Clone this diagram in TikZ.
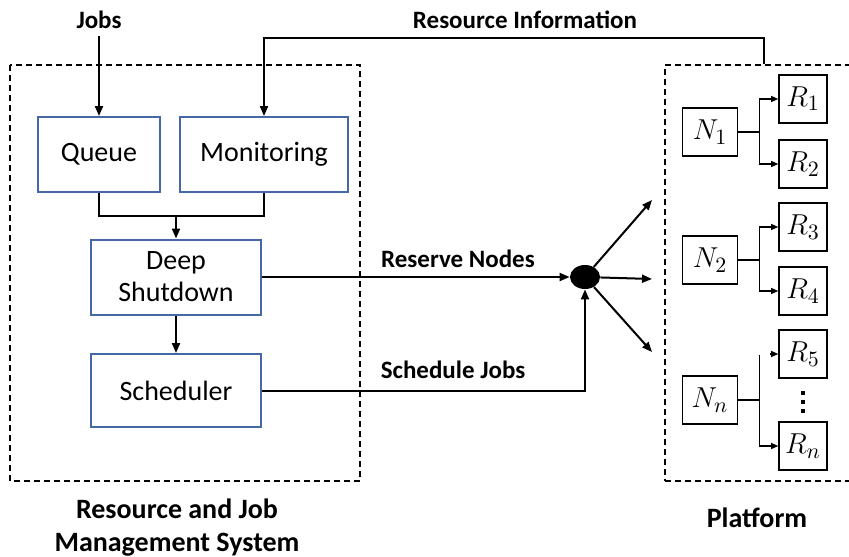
\documentclass[tikz,border=0pt]{standalone}
\usepackage{amsmath}
\usepackage{fontspec}
\setmainfont{Carlito}
\usetikzlibrary{arrows.meta, calc, shapes.geometric, positioning}

\definecolor{boxblue}{RGB}{70,104,166}

\tikzset{
  blockbox/.style={draw=boxblue, line width=1pt, align=center, inner sep=0pt, font=\fontsize{14}{16}\selectfont},
  resbox/.style={draw, line width=0.8pt, minimum width=24pt, minimum height=24pt, inner sep=0pt, font=\fontsize{15.5}{17}\selectfont},
  lbl/.style={font=\fontsize{12.5}{15}\selectfont\bfseries},
  arr/.style={-{Triangle[length=5pt,width=4pt]}, line width=1pt},
  sarr/.style={-{Triangle[length=3.5pt,width=3pt]}, line width=0.6pt}
}

\begin{document}
\begin{tikzpicture}[x=0.5pt, y=-0.5pt]
	% Frame
	\useasboundingbox (0,0) rectangle (849,556);
	\clip (0,0) rectangle (849,556);
	\fill[white] (0,0) rectangle (849,556);

	% Resource and job management system
	\draw[line width=1pt, dash pattern=on 3pt off 2pt] (10,65) rectangle (360,481);
	\node[blockbox, minimum width=61pt, minimum height=37.5pt] (queue) at (99,154.5) {Queue};
	\node[blockbox, minimum width=84pt, minimum height=37.5pt] (monitor) at (264,154.5) {Monitoring};
	\node[blockbox, minimum width=85pt, minimum height=37.5pt] (deep) at (176,277) {Deep\\Shutdown};
	\node[blockbox, minimum width=85pt, minimum height=36.5pt] (sched) at (176,390.5) {Scheduler};
	\coordinate (merge) at (176,216);

	% Platform
	\node[draw, line width=0.7pt, densely dashed, minimum width=102.5pt, minimum height=208pt, inner sep=0pt] (plat) at (767.5,273) {};
	\node[resbox, minimum width=27.5pt] (N1) at (710,132) {$N_1$};
	\node[resbox, minimum width=27.5pt] (N2) at (710,260) {$N_2$};
	\node[resbox, minimum width=27.5pt] (Nn) at (710,400) {$N_n$};
	\node[resbox] (R1) at (803,99) {$R_1$};
	\node[resbox] (R2) at (803,164) {$R_2$};
	\node[resbox] (R3) at (803,227) {$R_3$};
	\node[resbox] (R4) at (803,291) {$R_4$};
	\node[resbox] (R5) at (803,354) {$R_5$};
	\node[resbox] (Rn) at (803,446) {$R_n$};
	% vertical dots between R5 and Rn
	\foreach \dy in {-9,0,9}
		\fill (801,400+\dy) rectangle (805,404+\dy);

	% Labels
	\node[lbl] (jobs) at (99,20) {Jobs};
	\node[lbl] (resinfo) at (525,20) {Resource Information};
	\node[lbl] (reserve) at (458,259) {Reserve Nodes};
	\node[lbl] (schedjobs) at (453,370) {Schedule Jobs};
	\node[lbl, font=\fontsize{14}{16.5}\selectfont\bfseries, align=center] (rjms) at (177,528) {Resource and Job\\Management System};
	\node[lbl, font=\fontsize{14}{16}\selectfont\bfseries] (platlbl) at (757,518) {Platform};

	% Dispatch point
	\node[ellipse, fill=black, minimum width=15pt, minimum height=12pt, inner sep=0pt] (dot) at (585,277) {};
	\coordinate (outA) at (652,200);
	\coordinate (outB) at (652,279);
	\coordinate (outC) at (652,352);
	\coordinate (ritop) at (764,38);

	% Connectors
	\draw[arr] (jobs) -- (queue);
	\draw[arr] (plat.north -| ritop) -- (ritop) -| (monitor.north);
	\draw[line width=1pt] (queue.south) |- (merge) -| (monitor.south);
	\draw[arr] (merge) -- (deep.north);
	\draw[arr] (deep) -- (sched);
	\draw[arr] (deep.east) -- (dot.west);
	\draw[arr] (sched.east) -| (dot.south);
	\draw[arr] (dot) -- (outA);
	\draw[arr] (dot) -- (outB);
	\draw[arr] (dot) -- (outC);

	% Node branches
	\draw[line width=0.6pt] (N1.east) -- ++(21,0) coordinate (b1);
	\draw[sarr] (b1) |- (R1.west);
	\draw[sarr] (b1) |- (R2.west);
	\draw[line width=0.6pt] (N2.east) -- ++(21,0) coordinate (b2);
	\draw[sarr] (b2) |- (R3.west);
	\draw[sarr] (b2) |- (R4.west);
	\draw[line width=0.6pt] (Nn.east) -- ++(21,0) coordinate (bn);
	\draw[line width=0.6pt] ($(bn |- R5)+(0,1)$) -- (bn);
	\draw[sarr] (bn) |- (Rn.west);
	\draw[sarr] ($(R5.west)+(-8,0)$) -- (R5.west);
\end{tikzpicture}
\end{document}
